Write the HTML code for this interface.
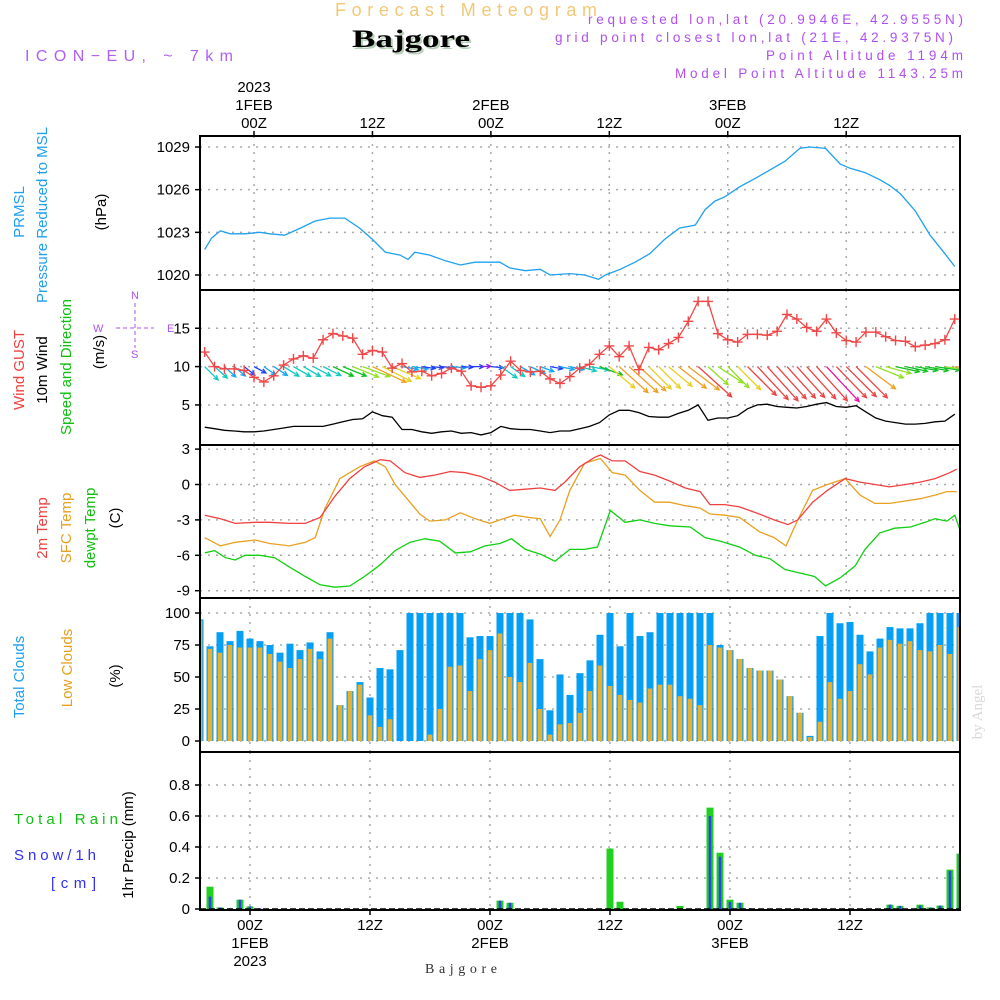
<!DOCTYPE html>
<html><head><meta charset="utf-8"><title>Meteogram Bajgore</title>
<style>
html,body{margin:0;padding:0;background:#fff;}
svg{display:block;font-family:"Liberation Sans",sans-serif;}
.tick{font-size:15px;fill:#000;}
</style></head>
<body>
<svg id="chart" width="1000" height="1000" viewBox="0 0 1000 1000" xmlns="http://www.w3.org/2000/svg">
  <defs><clipPath id="plotclip"><rect x="200" y="136" width="760" height="774"/></clipPath></defs>
  <!-- header -->
  <text x="335" y="16" font-size="18" fill="#f2c878" textLength="262" lengthAdjust="spacing">Forecast Meteogram</text>
  <text x="354" y="49" font-size="25" font-weight="bold" font-family="Liberation Serif,serif" fill="#b8d0b8" textLength="118" lengthAdjust="spacingAndGlyphs">Bajgore</text>
  <text x="352" y="47" font-size="25" font-weight="bold" font-family="Liberation Serif,serif" fill="#000" textLength="118" lengthAdjust="spacingAndGlyphs">Bajgore</text>
  <text x="25" y="61" font-size="16" fill="#b060f0" textLength="208" lengthAdjust="spacing">ICON−EU, ~ 7km</text>
  <g fill="#b050f0" font-size="13.5" text-anchor="end">
    <text x="963" y="24" textLength="375" lengthAdjust="spacing">requested lon,lat (20.9946E, 42.9555N)</text>
    <text x="953" y="42" textLength="398" lengthAdjust="spacing">grid point closest lon,lat (21E, 42.9375N)</text>
    <text x="963" y="60" textLength="197" lengthAdjust="spacing">Point Altitude 1194m</text>
    <text x="963" y="78" textLength="288" lengthAdjust="spacing">Model Point Altitude 1143.25m</text>
  </g>
  <!-- left labels -->
  <g font-size="15">
    <text transform="translate(24,212) rotate(-90)" text-anchor="middle" fill="#1fa0f0">PRMSL</text>
    <text transform="translate(47,215) rotate(-90)" text-anchor="middle" fill="#1fa0f0">Pressure Reduced to MSL</text>
    <text transform="translate(106,212) rotate(-90)" text-anchor="middle" fill="#000">(hPa)</text>
    <text transform="translate(24,370) rotate(-90)" text-anchor="middle" fill="#f04040">Wind GUST</text>
    <text transform="translate(47,370) rotate(-90)" text-anchor="middle" fill="#000">10m Wind</text>
    <text transform="translate(71,367) rotate(-90)" text-anchor="middle" fill="#10c010">Speed and Direction</text>
    <text transform="translate(104,352) rotate(-90)" text-anchor="middle" fill="#000">(m/s)</text>
    <text transform="translate(47,528) rotate(-90)" text-anchor="middle" fill="#f04040">2m Temp</text>
    <text transform="translate(71,528) rotate(-90)" text-anchor="middle" fill="#e8a020">SFC Temp</text>
    <text transform="translate(95,528) rotate(-90)" text-anchor="middle" fill="#10c010">dewpt Temp</text>
    <text transform="translate(120,518) rotate(-90)" text-anchor="middle" fill="#000">(C)</text>
    <text transform="translate(24,677) rotate(-90)" text-anchor="middle" fill="#1fa0f0">Total Clouds</text>
    <text transform="translate(72,668) rotate(-90)" text-anchor="middle" fill="#e8a020">Low Clouds</text>
    <text transform="translate(120,676) rotate(-90)" text-anchor="middle" fill="#000">(%)</text>
    <text x="14" y="824" fill="#10c010" textLength="104" lengthAdjust="spacing">Total  Rain</text>
    <text x="14" y="860" fill="#3030f0" textLength="82" lengthAdjust="spacing">Snow/1h</text>
    <text x="51" y="888" fill="#3030f0" textLength="45" lengthAdjust="spacing">[cm]</text>
    <text transform="translate(133,845) rotate(-90)" text-anchor="middle" fill="#000">1hr Precip (mm)</text>
  </g>
  <g fill="#b050f0" stroke="#b050f0" font-size="11">
    <text x="131" y="299" stroke="none">N</text>
    <text x="93" y="332" stroke="none">W</text>
    <text x="167" y="332" stroke="none">E</text>
    <text x="131" y="358" stroke="none">S</text>
    <line x1="116" y1="328" x2="154" y2="328" stroke-dasharray="4,3"/>
    <line x1="135" y1="303" x2="135" y2="348" stroke-dasharray="4,3"/>
  </g>
  <text transform="translate(982,712) rotate(-90)" text-anchor="middle" font-size="15" font-family="Liberation Serif,serif" fill="#d8d8d8">by Angel</text>
  <text x="425" y="973" font-size="14" font-family="Liberation Serif,serif" fill="#333" textLength="72" lengthAdjust="spacing">Bajgore</text>
  <g id="grid"></g>
  <g id="marks" clip-path="url(#plotclip)"></g>
  <g id="frames"></g>
  <g id="ticks"></g>
</svg>
<script>
// ---------- data ----------
const presHours = [-5,-4.3,-3.4,-2.4,-0.9,0.6,1.6,3.1,4.7,6.2,7.7,9.2,10.7,12.0,13.3,14.8,15.6,16.3,17.8,19.4,20.9,22.4,23.9,24.9,25.9,27.5,29.0,30.0,32.0,33.5,34.9,35.6,37.1,38.6,40.1,41.6,43.1,44.7,45.7,46.7,47.7,49.2,50.8,52.3,53.8,55.3,56.3,57.9,59.4,60.4,61.9,63.4,64.4,65.5,67.0,68.5,70.0,71.0];
const presVals = [1021.8,1022.6,1023.1,1022.9,1022.9,1023.0,1022.9,1022.8,1023.3,1023.8,1024.0,1024.0,1023.3,1022.5,1021.6,1021.4,1021.1,1021.6,1021.4,1021.0,1020.7,1020.9,1020.9,1020.9,1020.5,1020.3,1020.4,1020.0,1020.1,1020.0,1019.7,1020.0,1020.4,1020.9,1021.5,1022.5,1023.3,1023.5,1024.6,1025.2,1025.5,1026.2,1026.8,1027.4,1028.0,1028.9,1029.0,1028.9,1027.8,1027.5,1027.2,1026.7,1026.3,1025.7,1024.5,1022.8,1021.5,1020.6];
const presTicks = [1020,1023,1026,1029];

const windGust = [11.9,10.0,9.7,9.7,9.5,8.6,8.0,8.8,10.2,11.0,11.4,11.1,13.5,14.3,14.0,13.7,11.6,12.1,11.9,9.8,10.4,9.3,9.4,8.8,9.1,9.8,9.4,7.5,7.3,7.5,8.9,10.7,9.5,9.3,9.4,8.4,7.8,8.7,9.8,10.3,11.6,12.7,11.3,12.7,9.6,12.5,12.2,13.0,13.8,15.9,18.5,18.5,14.3,13.5,13.2,14.2,14.2,14.1,14.6,16.8,16.2,15.1,14.6,16.2,14.4,13.4,13.2,14.5,14.5,13.9,13.4,13.3,12.6,12.8,13.0,13.5,16.2];
const wind10m = [2.1,1.9,1.7,1.6,1.5,1.5,1.6,1.8,2.0,2.2,2.2,2.2,2.2,2.5,2.8,3.1,3.2,4.1,3.6,3.4,1.8,1.8,1.5,1.3,1.5,1.6,1.3,1.4,1.1,1.4,2.2,1.9,1.8,1.8,1.6,1.4,1.6,1.6,1.9,2.2,2.7,3.7,4.3,4.3,4.0,3.5,3.4,3.4,3.9,4.3,5.0,3.0,3.3,3.3,3.6,4.5,5.0,5.1,4.8,4.7,4.6,4.8,5.1,5.3,4.8,4.7,4.9,4.1,3.3,2.9,2.7,2.5,2.5,2.6,2.8,2.9,3.8];
const windAngle = [45,42,42,40,38,28,35,33,32,30,30,28,27,25,22,22,20,25,27,23,10,8,8,6,5,5,3,0,-2,5,35,35,30,25,20,10,12,12,15,10,20,40,42,42,42,45,45,40,38,37,42,42,33,45,45,45,47,48,48,48,48,48,48,47,46,45,45,37,22,15,12,12,10,10,8,8,5];
const windTicks = [5,10,15];

const t2Hours = [-5.0,-3.4,-1.9,0.1,1.6,3.6,5.2,6.7,8.2,9.7,11.2,12.8,13.8,15.3,16.8,18.3,19.9,21.4,22.9,24.4,25.9,27.5,29.0,30.5,31.5,33.0,34.5,35.1,36.3,37.6,39.1,40.6,42.1,43.7,45.2,46.2,47.7,49.2,51.2,52.7,54.1,55.1,56.6,58.1,59.9,61.4,62.9,64.4,66.0,67.5,69.0,70.5,71.2];
const t2Vals = [-2.6,-2.9,-3.3,-3.2,-3.2,-3.3,-3.3,-2.8,-1.0,0.5,1.5,2.1,2.0,1.0,0.6,0.8,1.1,1.0,0.7,0.2,-0.5,-0.4,-0.3,-0.5,0.2,1.5,2.3,2.5,2.0,2.0,1.1,0.8,0.3,-0.3,-0.6,-1.7,-1.7,-1.9,-2.5,-3.0,-3.4,-3.0,-1.5,-0.5,0.5,0.2,0.0,-0.2,0.0,0.2,0.5,1.0,1.3];
const sfcHours = [-5.0,-3.4,-1.9,0.1,1.6,3.6,5.2,6.2,7.2,8.7,10.7,12.2,13.3,14.3,15.3,16.8,17.8,19.4,20.9,22.4,23.9,24.9,26.4,27.9,29.0,30.0,31.0,32.0,33.5,35.1,36.3,37.6,39.1,40.6,42.1,43.7,45.2,46.2,47.7,49.2,51.2,52.7,53.9,55.1,56.6,58.1,59.9,61.4,62.9,64.4,66.0,67.5,69.0,70.2,71.2];
const sfcVals = [-4.5,-5.2,-4.9,-4.7,-5.0,-5.2,-4.9,-4.5,-2.0,0.5,1.5,2.0,1.5,0.0,-1.0,-2.5,-3.1,-3.0,-2.4,-2.9,-3.3,-3.0,-2.6,-2.8,-2.9,-4.4,-3.0,-0.5,1.8,2.2,1.0,0.8,-0.5,-1.5,-1.5,-1.8,-2.0,-2.5,-2.6,-2.8,-4.0,-4.5,-5.2,-3.0,-0.5,0.0,0.5,-0.9,-1.6,-1.6,-1.4,-1.2,-0.9,-0.6,-0.6];
const dewHours = [-5.0,-4.0,-2.9,-1.9,-0.9,0.6,2.1,3.6,5.2,6.7,8.2,9.7,11.2,12.8,14.3,15.8,17.3,18.8,20.4,21.9,23.4,24.9,26.1,27.5,29.0,30.5,32.0,33.5,34.8,36.1,37.6,39.1,40.6,42.1,44.2,45.7,47.2,49.2,50.8,52.3,53.8,55.3,56.8,57.9,59.4,60.9,61.9,63.4,64.9,66.5,68.0,69.0,70.2,71.0,71.5];
const dewVals = [-5.8,-5.6,-6.2,-6.4,-6.0,-6.0,-6.2,-7.0,-7.8,-8.5,-8.7,-8.6,-7.8,-6.8,-5.6,-4.9,-4.6,-4.8,-5.8,-5.7,-5.2,-5.0,-4.6,-5.5,-5.9,-6.5,-5.5,-5.5,-5.3,-2.2,-3.2,-3.0,-3.3,-3.5,-3.6,-4.5,-4.8,-5.3,-6.0,-6.3,-7.2,-7.5,-7.8,-8.6,-7.9,-6.9,-5.5,-4.1,-3.7,-3.6,-3.2,-2.9,-3.1,-2.6,-3.8];
const tempTicks = [-9,-6,-3,0,3];

const cloudTotal = [95,74,85,78,86,80,78,75,69,76,71,77,70,85,28,39,46,34,57,56,71,100,100,100,100,100,100,81,82,82,100,100,100,95,64,24,52,36,53,63,83,100,74,100,82,85,100,100,100,100,100,100,75,71,64,57,55,55,48,35,22,4,82,100,92,93,83,70,80,89,88,88,92,100,100,100,100];
const cloudLow = [94,72,69,75,73,73,73,68,62,57,64,72,64,80,28,39,44,20,11,17,0,0,0,5,25,58,59,39,64,71,84,50,46,61,25,5,13,14,22,39,59,43,36,32,30,41,44,44,35,33,28,75,73,71,64,57,55,55,48,35,22,3,15,46,33,39,60,52,73,79,76,78,71,70,75,68,89];
const cloudTicks = [0,25,50,75,100];
const firstHour = -5;

const precipHours = [-4,-3,-2,-1,0,1,22,25,26,36,37,43,46,47,48,49,50,64,65,67,68,69,70,71];
const rainVals  = [0.144,0.01,0,0.06,0.017,0,0,0.054,0.04,0.39,0.047,0.02,0.654,0.363,0.06,0.04,0,0.028,0.02,0.028,0.01,0.022,0.254,0.357];
const snowVals  = [0.08,0.01,0.005,0.06,0.017,0.005,0.003,0.054,0.04,0,0,0,0.60,0.338,0.047,0.04,0.005,0.028,0.02,0.022,0.008,0.022,0.247,0.357];
const precipTicks = [0,0.2,0.4,0.6,0.8];

const timeTicks = [0,12,24,36,48,60];
const timeLabels = ["00Z","12Z","00Z","12Z","00Z","12Z"];
const dateLabels = ["1FEB","","2FEB","","3FEB",""];

// ---------- scales ----------
const X0=200, X1=960;
const xTop = h => 254 + 9.87*h;
const xBot = h => 250 + 10*h;
const yP = v => 275 - (v-1020)*14.22;
const yW = v => 443.3 - v*7.67;
const yT = v => 484.5 - v*11.8;
const yC = v => 741 - v*1.28;
const yR = v => 909 - v*155;
const panels = [[136,290],[290,445],[445,598],[598,752],[752,910]];

const NS="http://www.w3.org/2000/svg";
function mk(tag, parent, attrs){const e=document.createElementNS(NS,tag);for(const k in attrs)e.setAttribute(k,attrs[k]);parent.appendChild(e);return e;}
const grid=document.getElementById('grid'), marks=document.getElementById('marks'), frames=document.getElementById('frames'), ticks=document.getElementById('ticks');

function hgrid(vals, ys, p){ vals.forEach(v=>{ const y=ys(v); if(y>panels[p][0]+2 && y<panels[p][1]-2){
  const l=mk('line',grid,{x1:X0,x2:X1,y1:y,y2:y,stroke:'#aaa','stroke-dasharray':'2,6','stroke-width':1.5});
  
  }});}
hgrid(presTicks,yP,0);hgrid(windTicks,yW,1);hgrid(tempTicks,yT,2);hgrid(cloudTicks,yC,3);hgrid(precipTicks,yR,4);
timeTicks.forEach(h=>{
  [[0,1,2],[3,4]].forEach((ps,gi)=>{ ps.forEach(p=>{
    const x = gi===0? xTop(h): xBot(h);
    const l=mk('line',grid,{x1:x,x2:x,y1:panels[p][0],y2:panels[p][1],stroke:'#aaa','stroke-dasharray':'2,6','stroke-width':1.5});
    
    
  });});
});

function poly(hours, vals, xs, ys, color, name){
  const pts = vals.map((v,i)=>xs(hours[i]).toFixed(1)+','+ys(v).toFixed(1)).join(' ');
  const p=mk('polyline',marks,{points:pts,fill:'none',stroke:color,'stroke-width':1.3});
  
  
  return p;
}
poly(presHours,presVals,xTop,yP,'#1fa0f0','pressure-line');
const hourly = windGust.map((_,i)=>firstHour+i);
poly(hourly,wind10m,xTop,yW,'#000','wind-10m-line');
function speedColor(s){
  const stops=[[1.2,'#9020e0'],[1.5,'#2040f0'],[1.8,'#10a8f0'],[2.3,'#10c8c0'],[2.8,'#10c020'],[3.3,'#90e020'],[3.7,'#e8d020'],[4.4,'#f0a020'],[5.2,'#f04040'],[9,'#f010a0']];
  for(const s0 of stops){ if(s<=s0[0]) return s0[1]; }
  return stops[stops.length-1][1];
}
wind10m.forEach((s,i)=>{
  const x=xTop(hourly[i]), y=yW(10), a=windAngle[i]*Math.PI/180, L=9*s;
  const x2=x+L*Math.cos(a), y2=y+L*Math.sin(a), c=speedColor(s);
  const g=mk('g',marks,{stroke:c,'stroke-width':1.3,fill:'none'});
  
  
  mk('line',g,{x1:x,y1:y,x2:x2,y2:y2});
  const h1=a+Math.PI-0.45, h2=a+Math.PI+0.45;
  mk('polyline',g,{points:`${x2+5*Math.cos(h1)},${y2+5*Math.sin(h1)} ${x2},${y2} ${x2+5*Math.cos(h2)},${y2+5*Math.sin(h2)}`});
});
poly(hourly,windGust,xTop,yW,'#f04848','wind-gust-line');
windGust.forEach((v,i)=>{
  const x=xTop(hourly[i]), y=yW(v);
  const m=mk('path',marks,{d:`M${x-5},${y}H${x+5}M${x},${y-5}V${y+5}`,stroke:'#f04848','stroke-width':1.4});
  
  
});
poly(sfcHours,sfcVals,xTop,yT,'#e8a020','sfc-temp-line');
poly(t2Hours,t2Vals,xTop,yT,'#f04040','temp-2m-line');
poly(dewHours,dewVals,xTop,yT,'#10d010','dewpt-line');
cloudTotal.forEach((v,i)=>{
  const cx=xBot(firstHour+i);
  const x=Math.max(X0,cx-3.5), w=Math.min(X1,cx+3.5)-x;
  const r=mk('rect',marks,{x:x,y:yC(v),width:w,height:yC(0)-yC(v),fill:'#059ff5'});
  
  
  const lv=cloudLow[i];
  const x2=Math.max(X0,cx-2.3), w2=Math.min(X1,cx+2.3)-x2;
  const r2=mk('rect',marks,{x:x2,y:yC(lv),width:w2,height:yC(0)-yC(lv),fill:'#e8b030'});
  
  
});
precipHours.forEach((h,i)=>{
  const cx=xBot(h);
  const x=Math.max(X0,cx-3.5), w=Math.min(X1,cx+3.5)-x;
  const r=mk('rect',marks,{x:x,y:yR(rainVals[i]),width:w,height:yR(0)-yR(rainVals[i]),fill:'#20d020'});
  
  
  const r2=mk('rect',marks,{x:cx-1.3,y:yR(snowVals[i]),width:2.6,height:yR(0)-yR(snowVals[i]),fill:'#3040f0'});
  
  
});
mk('line',marks,{x1:X0,x2:X1,y1:909,y2:909,stroke:'#000','stroke-width':1.5,'stroke-dasharray':'6,3'});

panels.forEach((p,i)=>{
  const r=mk('rect',frames,{x:X0,y:p[0],width:X1-X0,height:p[1]-p[0],fill:'none',stroke:'#000','stroke-width':2});
  
  
});

function yl(vals, ys, fmt){ vals.forEach(v=>{
  const y=ys(v);
  mk('line',ticks,{x1:X0-5,x2:X0,y1:y,y2:y,stroke:'#000','stroke-width':1.5});
  const t=mk('text',ticks,{x:X0-10,y:y+5,'text-anchor':'end',class:'tick'});
  t.textContent=fmt(v);
  
  
});}
yl(presTicks,yP,v=>String(v));
yl(windTicks,yW,v=>String(v));
yl(tempTicks,yT,v=>String(v));
yl(cloudTicks,yC,v=>String(v));
yl(precipTicks,yR,v=>v===0?'0':v.toFixed(1));

timeTicks.forEach((h,i)=>{
  const xt=xTop(h), xb=xBot(h);
  mk('line',ticks,{x1:xt,x2:xt,y1:131,y2:136,stroke:'#000','stroke-width':1.5});
  mk('line',ticks,{x1:xb,x2:xb,y1:910,y2:915,stroke:'#000','stroke-width':1.5});
  const t=mk('text',ticks,{x:xt,y:128,'text-anchor':'middle',class:'tick'});
  t.textContent=timeLabels[i];
  
  
  const b=mk('text',ticks,{x:xb,y:930,'text-anchor':'middle',class:'tick'});
  b.textContent=timeLabels[i];
  
  
  if(dateLabels[i]){
    const d=mk('text',ticks,{x:xt,y:110,'text-anchor':'middle',class:'tick'});
    d.textContent=dateLabels[i];
    
    
    const d2=mk('text',ticks,{x:xb,y:948,'text-anchor':'middle',class:'tick'});
    d2.textContent=dateLabels[i];
    
    
  }
  if(i===0){
    const y1=mk('text',ticks,{x:xt,y:92,'text-anchor':'middle',class:'tick'});
    y1.textContent='2023';
    
    
    const y2=mk('text',ticks,{x:xb,y:966,'text-anchor':'middle',class:'tick'});
    y2.textContent='2023';
    
    
  }
});
</script>
</body></html>
